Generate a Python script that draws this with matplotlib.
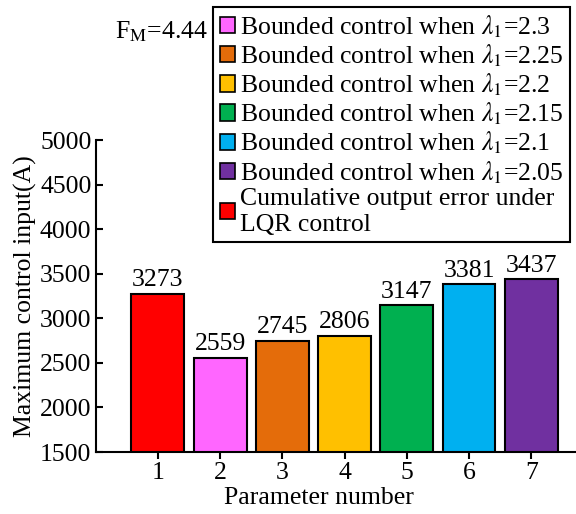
import matplotlib
matplotlib.use("Agg")
import matplotlib.pyplot as plt
from matplotlib.patches import Patch

plt.rcParams['font.family'] = ['Liberation Serif', 'DejaVu Serif']
plt.rcParams['mathtext.fontset'] = 'stix'

# Data
params = [1, 2, 3, 4, 5, 6, 7]
values = [3273, 2559, 2745, 2806, 3147, 3381, 3437]
colors = ['#FF0000', '#FF66FF', '#E46C0A', '#FFC000', '#00B050', '#00B0F0', '#7030A0']
legend_labels = [
    r'Bounded control when $\lambda_1$=2.3',
    r'Bounded control when $\lambda_1$=2.25',
    r'Bounded control when $\lambda_1$=2.2',
    r'Bounded control when $\lambda_1$=2.15',
    r'Bounded control when $\lambda_1$=2.1',
    r'Bounded control when $\lambda_1$=2.05',
    'Cumulative output error under\nLQR control',
]
legend_colors = colors[1:] + colors[:1]
yticks = [1500, 2000, 2500, 3000, 3500, 4000, 4500, 5000]

fs = 18.5
fig = plt.figure(figsize=(5.76, 5.14), dpi=100)
ax = fig.add_axes([0.166, 0.1206, 0.832, 0.607])

ax.bar(params, values, width=0.85, color=colors, edgecolor='black', linewidth=1.5, zorder=2)
for x, v in zip(params, values):
    ax.text(x, v + 30, str(v), ha='center', va='bottom', fontsize=fs)

ax.set_xlim(0, 7.7)
ax.set_ylim(1500, 5000)
ax.set_xticks(params)
ax.set_yticks(yticks)
ax.tick_params(axis='y', direction='in', length=5, width=1.5, labelsize=fs, pad=3)
ax.tick_params(axis='x', direction='out', length=5, width=1.5, labelsize=fs, pad=2)
for s in ['top', 'right']:
    ax.spines[s].set_visible(False)
for s in ['left', 'bottom']:
    ax.spines[s].set_linewidth(1.5)

ax.set_xlabel('Parameter number', fontsize=fs, va='center')
ax.xaxis.set_label_coords(0.466, -0.147)
ax.set_ylabel('Maximum control input(A)', fontsize=fs, labelpad=2)

fig.text(0.28, 0.938, r'F$_\mathrm{M}$=4.44', fontsize=fs, ha='center', va='center')

handles = [Patch(facecolor=c, edgecolor='black', linewidth=1.2) for c in legend_colors]
leg = fig.legend(handles, legend_labels, loc='upper right',
                 bbox_to_anchor=(0.99, 0.987), fontsize=fs,
                 frameon=True, fancybox=False, framealpha=1, edgecolor='black',
                 handlelength=0.6, handleheight=0.6, handletextpad=0.2,
                 labelspacing=0.1, borderpad=0.25, borderaxespad=0)
leg.get_frame().set_linewidth(1.5)

fig.savefig('out.png', dpi=100)
